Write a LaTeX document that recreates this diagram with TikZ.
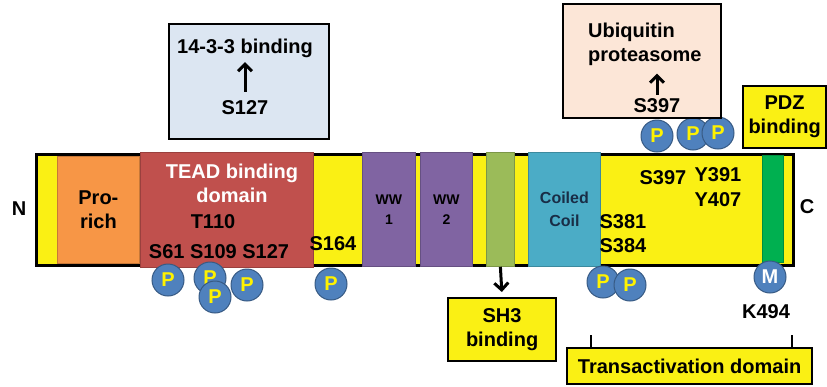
\documentclass[tikz,border=0pt]{standalone}
\usepackage{fontspec}
\setmainfont{Liberation Sans}
\usetikzlibrary{arrows.meta}
\definecolor{barYellow}{RGB}{250,240,20}
\definecolor{proOrange}{RGB}{247,150,70}
\definecolor{teadRed}{RGB}{192,80,77}
\definecolor{wwPurple}{RGB}{128,100,162}
\definecolor{sh3Olive}{RGB}{155,187,89}
\definecolor{coilCyan}{RGB}{75,172,198}
\definecolor{coilText}{RGB}{25,45,70}
\definecolor{pdzGreen}{RGB}{0,176,80}
\definecolor{pBlue}{RGB}{79,129,189}
\definecolor{lightBlue}{RGB}{220,230,242}
\definecolor{lightPeach}{RGB}{252,230,215}
\begin{document}
\begin{tikzpicture}[x=1pt, y=-1pt,
  every node/.style={font=\fontsize{20}{24}\selectfont\bfseries, inner sep=0pt, align=center},
  domain/.style={draw=#1!80!black, fill=#1, line width=0.8pt, anchor=north west},
  infobox/.style={draw=black, line width=2.2pt, anchor=north west},
  phos/.style={circle, fill=pBlue, draw=pBlue!70!black, line width=1pt, minimum size=32pt, text=yellow},
  uparrow/.style={-{Straight Barb[length=7pt,width=14pt,line width=3pt]}, line width=3pt}]
\useasboundingbox (0,0) rectangle (827,386);
% protein bar
\node[draw, fill=barYellow, line width=2.8pt, minimum width=757pt, minimum height=111pt, anchor=north west] (yap) at (35,153) {};
% domains
\node[domain=proOrange, minimum width=82pt, minimum height=107pt] (prorich) at (57,156) {Pro-\\rich};
\node[domain=teadRed, minimum width=173pt, minimum height=115pt] (tead) at (140,152) {};
\node[domain=wwPurple, minimum width=53pt, minimum height=114pt, font=\fontsize{14}{20}\selectfont\bfseries] (ww1) at (362,152) {WW\\1};
\node[domain=wwPurple, minimum width=52pt, minimum height=114pt, font=\fontsize{14}{20}\selectfont\bfseries] (ww2) at (420,152) {WW\\2};
\node[domain=sh3Olive, minimum width=28pt, minimum height=114pt] (sh3dom) at (486,152) {};
\node[domain=coilCyan, minimum width=72pt, minimum height=114pt, text=coilText, font=\fontsize{16}{23}\selectfont\bfseries] (coil) at (528,152) {Coiled\\Coil};
\node[domain=pdzGreen, minimum width=21pt, minimum height=107pt] (pdzdom) at (762,155) {};
% termini and sites
\node (nterm) at (19,208.5) {N};
\node (cterm) at (807,207) {C};
\node[text=white] (teadlbl) at (232,183) {TEAD binding\\domain};
\node (t110) at (213,221.5) {T110};
\node (s61) at (219,252) {S61 S109 S127};
\node (s164) at (333,244) {S164};
\node (s397) at (663,178) {S397};
\node (y391) at (718,174.5) {Y391};
\node (y407) at (718,200) {Y407};
\node (s381) at (623,222) {S381};
\node (s384) at (623,246) {S384};
\node (k494) at (766,312) {K494};
% phosphorylation
\foreach \n/\x/\y in {pS61/168/280, pS109a/210/278, pS109b/215/297, pS127/247/285, pS164/331/284, pS381/603/282, pS384/630/285, pS397/657/136, pY391/693/134, pY407/718/133}
  \node[phos] (\n) at (\x,\y) {P};
\node[phos, text=white] (mK494) at (770,277) {M};
% 14-3-3 binding
\node[infobox, fill=lightBlue, minimum width=160pt, minimum height=115pt] (box1433) at (168,23) {};
\node (t1433) at (245,48.5) {14-3-3 binding};
\node (s127) at (245,108) {S127};
\draw[uparrow, shorten <=9pt, shorten >=4pt] (s127.north) -- (t1433.south);
% ubiquitin proteasome
\node[infobox, fill=lightPeach, minimum width=158pt, minimum height=114pt] (boxubi) at (562,3) {};
\node[align=left, anchor=north west] (tubi) at (588,22.5) {Ubiquitin\\proteasome};
\node (s397b) at (657,106) {S397};
\draw[uparrow, shorten <=4pt, shorten >=8pt] (s397b.north) -- (s397b.north |- tubi.south);
% binding boxes
\node[infobox, fill=barYellow, minimum width=83pt, minimum height=62pt] (pdzbox) at (742,85) {PDZ\\binding};
\node[infobox, fill=barYellow, minimum width=108pt, minimum height=63pt] (sh3box) at (447,297) {SH3\\binding};
\draw[uparrow, shorten >=5pt] (sh3dom.south) -- (sh3box.north);
% transactivation domain
\node[infobox, fill=barYellow, minimum width=245pt, minimum height=36pt] (tad) at (566,347) {Transactivation domain};
\coordinate (tadL) at (591,335);
\coordinate (tadR) at (792,335);
\draw[line width=1.6pt] (tadL) -- (tadL |- tad.north) (tadR) -- (tadR |- tad.north);
\end{tikzpicture}
\end{document}
